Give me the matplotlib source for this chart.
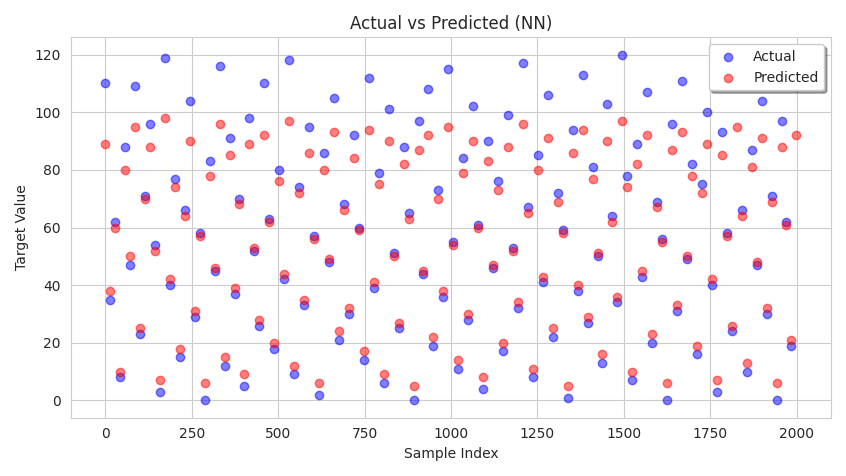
import matplotlib
matplotlib.use("Agg")
import matplotlib.pyplot as plt
import seaborn as sns
import numpy as np

sns.set_style("whitegrid")
plt.rcParams['font.family'] = ['DejaVu Sans']

# Hand-estimated sample of the visible points (subset of the 2000 samples)
actual = [110, 35, 62, 8, 88, 47, 109, 23, 71, 96, 54, 3, 119, 40, 77, 15, 66, 104, 29, 58,
          0, 83, 45, 116, 12, 91, 37, 70, 5, 98, 52, 26, 110, 63, 18, 80, 42, 118, 9, 74,
          33, 95, 57, 2, 86, 48, 105, 21, 68, 30, 92, 60, 14, 112, 39, 79, 6, 101, 51, 25,
          88, 65, 0, 97, 44, 108, 19, 73, 36, 115, 55, 11, 84, 28, 102, 61, 4, 90, 46, 76,
          17, 99, 53, 32, 117, 67, 8, 85, 41, 106, 22, 72, 59, 1, 94, 38, 113, 27, 81, 50,
          13, 103, 64, 34, 120, 78, 7, 89, 43, 107, 20, 69, 56, 0, 96, 31, 111, 49, 82, 16,
          75, 100, 40, 3, 93, 58, 24, 114, 66, 10, 87, 47, 104, 30, 71, 0, 97, 62, 19, 109]
predicted = [89, 38, 60, 10, 80, 50, 95, 25, 70, 88, 52, 7, 98, 42, 74, 18, 64, 90, 31, 57,
             6, 78, 46, 96, 15, 85, 39, 68, 9, 89, 53, 28, 92, 62, 20, 76, 44, 97, 12, 72,
             35, 86, 56, 6, 80, 49, 93, 24, 66, 32, 84, 59, 17, 94, 41, 75, 9, 90, 50, 27,
             82, 63, 5, 87, 45, 92, 22, 70, 38, 95, 54, 14, 79, 30, 90, 60, 8, 83, 47, 73,
             20, 88, 52, 34, 96, 65, 11, 80, 43, 91, 25, 69, 58, 5, 86, 40, 94, 29, 77, 51,
             16, 90, 62, 36, 97, 74, 10, 82, 45, 92, 23, 67, 55, 6, 87, 33, 93, 50, 78, 19,
             72, 89, 42, 7, 85, 57, 26, 95, 64, 13, 81, 48, 91, 32, 69, 6, 88, 61, 21, 92]
n_samples = 2000

x = np.linspace(0, n_samples - 1, len(actual))

fig, ax = plt.subplots(figsize=(8.46, 4.76), dpi=100)
ax.scatter(x, actual, color='blue', alpha=0.5, label='Actual')
ax.scatter(x, predicted, color='red', alpha=0.5, label='Predicted')
ax.set_title('Actual vs Predicted (NN)')
ax.set_xlabel('Sample Index')
ax.set_ylabel('Target Value')
ax.set_xticks(np.arange(0, 2001, 250))
ax.legend(loc='upper right', frameon=True, shadow=True)
fig.tight_layout()
fig.savefig('out.png', dpi=100)
